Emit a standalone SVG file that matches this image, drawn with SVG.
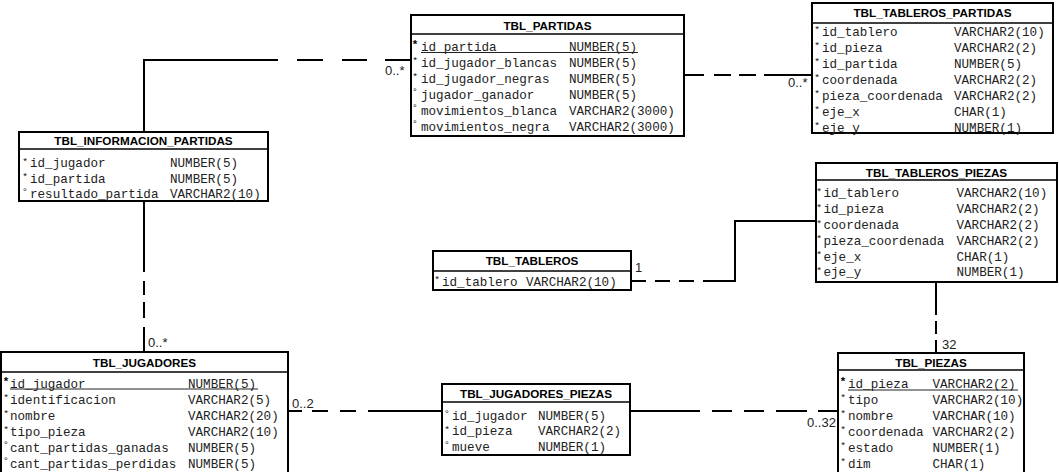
<svg xmlns="http://www.w3.org/2000/svg" width="1059" height="472" viewBox="0 0 1059 472">
<style>
.box{fill:#fff;stroke:#000;stroke-width:2}
.hl{stroke:#000;stroke-width:1.5}
.hdr{font-family:"Liberation Sans",Arial,sans-serif;font-weight:bold;font-size:11.7px;text-anchor:middle;fill:#000}
.f{font-family:"Liberation Mono","Courier New",monospace;font-size:12.6px;fill:#222}
.mk{font-family:"Liberation Sans",Arial,sans-serif;font-size:9.5px;text-anchor:middle;fill:#111}
.pk{font-family:"Liberation Sans",Arial,sans-serif;font-size:11.5px;font-weight:bold;text-anchor:middle;fill:#000}
.ul{stroke:#222;stroke-width:1}
.cn{fill:none;stroke:#000;stroke-width:2}
.lbl{font-family:"Liberation Sans",Arial,sans-serif;font-size:13px;fill:#222}
</style>
<rect width="1059" height="472" fill="#fff"/>

<g id="connectors">
  <path class="cn" d="M144,132 V60 H411" stroke-dasharray="206 19 26 19 25 18 40"/>
  <path class="cn" d="M144,201 V352" stroke-dasharray="71 9 14 7 16 9 40"/>
  <path class="cn" d="M684,75 H812" stroke-dasharray="20 10 17 8 17 8 60"/>
  <path class="cn" d="M631,281 H735 V221 H816" stroke-dasharray="15 9 15 9 15 9 200"/>
  <path class="cn" d="M936,282 V353" stroke-dasharray="33 6 13 6 30"/>
  <path class="cn" d="M288,411 H442" stroke-dasharray="14 10 16 12 16 12 100"/>
  <path class="cn" d="M630,411 H838" stroke-dasharray="70 12 20 12 20 12 31 11 30"/>
  <text class="lbl" x="385" y="75">0..*</text>
  <text class="lbl" x="788" y="87">0..*</text>
  <text class="lbl" x="148" y="347">0..*</text>
  <text class="lbl" x="292" y="408">0..2</text>
  <text class="lbl" x="807" y="427">0..32</text>
  <text class="lbl" x="942" y="349">32</text>
  <text class="lbl" x="635" y="272">1</text>
</g>

<g id="tbl_partidas">
  <rect class="box" x="411" y="15" width="273" height="121"/>
  <line class="hl" x1="411" y1="34" x2="684" y2="34"/>
  <text class="hdr" x="547.5" y="30">TBL_PARTIDAS</text>
  <text class="pk" x="415" y="48">*</text>
  <text class="mk" x="415" y="63">*</text>
  <text class="mk" x="415" y="79">*</text>
  <text class="mk" x="415" y="95">°</text>
  <text class="mk" x="415" y="111">°</text>
  <text class="mk" x="415" y="127">°</text>
  <text class="f" x="421" y="51">id_partida</text><text class="f" x="569" y="51">NUMBER(5)</text>
  <text class="f" x="421" y="67">id_jugador_blancas</text><text class="f" x="569" y="67">NUMBER(5)</text>
  <text class="f" x="421" y="83">id_jugador_negras</text><text class="f" x="569" y="83">NUMBER(5)</text>
  <text class="f" x="421" y="99">jugador_ganador</text><text class="f" x="569" y="99">NUMBER(5)</text>
  <text class="f" x="421" y="115">movimientos_blanca</text><text class="f" x="569" y="115">VARCHAR2(3000)</text>
  <text class="f" x="421" y="131">movimientos_negra</text><text class="f" x="569" y="131">VARCHAR2(3000)</text>
  <line class="ul" x1="421" y1="52.5" x2="638" y2="52.5"/>
</g>

<g id="tbl_tableros_partidas">
  <rect class="box" x="812" y="3" width="241" height="130"/>
  <line class="hl" x1="812" y1="23" x2="1053" y2="23"/>
  <text class="hdr" x="932.5" y="17">TBL_TABLEROS_PARTIDAS</text>
  <text class="mk" x="817" y="32">*</text>
  <text class="mk" x="817" y="48">*</text>
  <text class="mk" x="817" y="64">*</text>
  <text class="mk" x="817" y="80">*</text>
  <text class="mk" x="817" y="96">*</text>
  <text class="mk" x="817" y="112">*</text>
  <text class="mk" x="817" y="128">*</text>
  <text class="f" x="822" y="35.5">id_tablero</text><text class="f" x="954" y="35.5">VARCHAR2(10)</text>
  <text class="f" x="822" y="51.5">id_pieza</text><text class="f" x="954" y="51.5">VARCHAR2(2)</text>
  <text class="f" x="822" y="67.5">id_partida</text><text class="f" x="954" y="67.5">NUMBER(5)</text>
  <text class="f" x="822" y="83.5">coordenada</text><text class="f" x="954" y="83.5">VARCHAR2(2)</text>
  <text class="f" x="822" y="99.5">pieza_coordenada</text><text class="f" x="954" y="99.5">VARCHAR2(2)</text>
  <text class="f" x="822" y="115.5">eje_x</text><text class="f" x="954" y="115.5">CHAR(1)</text>
  <text class="f" x="822" y="131.5">eje_y</text><text class="f" x="954" y="131.5">NUMBER(1)</text>
</g>

<g id="tbl_informacion_partidas">
  <rect class="box" x="19" y="132" width="249" height="69"/>
  <line class="hl" x1="19" y1="149" x2="268" y2="149"/>
  <text class="hdr" x="143.5" y="145">TBL_INFORMACION_PARTIDAS</text>
  <text class="mk" x="25" y="164">*</text>
  <text class="mk" x="25" y="179">*</text>
  <text class="mk" x="25" y="195">°</text>
  <text class="f" x="30" y="167">id_jugador</text><text class="f" x="170" y="167">NUMBER(5)</text>
  <text class="f" x="30" y="182.5">id_partida</text><text class="f" x="170" y="182.5">NUMBER(5)</text>
  <text class="f" x="30" y="198">resultado_partida</text><text class="f" x="170" y="198">VARCHAR2(10)</text>
</g>

<g id="tbl_tableros_piezas">
  <rect class="box" x="816" y="163" width="241" height="119"/>
  <line class="hl" x1="816" y1="180" x2="1057" y2="180"/>
  <text class="hdr" x="936.5" y="177">TBL_TABLEROS_PIEZAS</text>
  <text class="mk" x="819" y="194">*</text>
  <text class="mk" x="819" y="210">*</text>
  <text class="mk" x="819" y="226">*</text>
  <text class="mk" x="819" y="241">*</text>
  <text class="mk" x="819" y="257">*</text>
  <text class="mk" x="819" y="273">*</text>
  <text class="f" x="823.5" y="197">id_tablero</text><text class="f" x="956.5" y="197">VARCHAR2(10)</text>
  <text class="f" x="823.5" y="213">id_pieza</text><text class="f" x="956.5" y="213">VARCHAR2(2)</text>
  <text class="f" x="823.5" y="229">coordenada</text><text class="f" x="956.5" y="229">VARCHAR2(2)</text>
  <text class="f" x="823.5" y="244.5">pieza_coordenada</text><text class="f" x="956.5" y="244.5">VARCHAR2(2)</text>
  <text class="f" x="823.5" y="260.5">eje_x</text><text class="f" x="956.5" y="260.5">CHAR(1)</text>
  <text class="f" x="823.5" y="276">eje_y</text><text class="f" x="956.5" y="276">NUMBER(1)</text>
</g>

<g id="tbl_tableros">
  <rect class="box" x="433" y="251" width="198" height="39"/>
  <line class="hl" x1="433" y1="271" x2="631" y2="271"/>
  <text class="hdr" x="532" y="265">TBL_TABLEROS</text>
  <text class="mk" x="437" y="282">*</text>
  <text class="f" x="442" y="285.5">id_tablero</text><text class="f" x="526" y="285.5">VARCHAR2(10)</text>
</g>

<g id="tbl_jugadores">
  <rect class="box" x="1" y="352" width="287" height="126"/>
  <line class="hl" x1="1" y1="372" x2="288" y2="372"/>
  <text class="hdr" x="144.5" y="367">TBL_JUGADORES</text>
  <text class="pk" x="6" y="385">*</text>
  <text class="mk" x="6" y="400">*</text>
  <text class="mk" x="6" y="416">*</text>
  <text class="mk" x="6" y="432">*</text>
  <text class="mk" x="6" y="448">°</text>
  <text class="mk" x="6" y="464">°</text>
  <text class="f" x="10" y="387.5">id_jugador</text><text class="f" x="188" y="387.5">NUMBER(5)</text>
  <text class="f" x="10" y="403.5">identificacion</text><text class="f" x="188" y="403.5">VARCHAR2(5)</text>
  <text class="f" x="10" y="419.5">nombre</text><text class="f" x="188" y="419.5">VARCHAR2(20)</text>
  <text class="f" x="10" y="435.5">tipo_pieza</text><text class="f" x="188" y="435.5">VARCHAR2(10)</text>
  <text class="f" x="10" y="451.5">cant_partidas_ganadas</text><text class="f" x="188" y="451.5">NUMBER(5)</text>
  <text class="f" x="10" y="467.5">cant_partidas_perdidas</text><text class="f" x="188" y="467.5">NUMBER(5)</text>
  <line class="ul" x1="10" y1="389" x2="258" y2="389"/>
</g>

<g id="tbl_jugadores_piezas">
  <rect class="box" x="442" y="384" width="188" height="71"/>
  <line class="hl" x1="442" y1="402" x2="630" y2="402"/>
  <text class="hdr" x="536" y="398">TBL_JUGADORES_PIEZAS</text>
  <text class="mk" x="447" y="417">°</text>
  <text class="mk" x="447" y="432">*</text>
  <text class="mk" x="447" y="448">°</text>
  <text class="f" x="452" y="419.5">id_jugador</text><text class="f" x="538" y="419.5">NUMBER(5)</text>
  <text class="f" x="452" y="435">id_pieza</text><text class="f" x="538" y="435">VARCHAR2(2)</text>
  <text class="f" x="452" y="450.5">mueve</text><text class="f" x="538" y="450.5">NUMBER(1)</text>
</g>

<g id="tbl_piezas">
  <rect class="box" x="838" y="353" width="186" height="125"/>
  <line class="hl" x1="838" y1="370" x2="1024" y2="370"/>
  <text class="hdr" x="931" y="367">TBL_PIEZAS</text>
  <text class="pk" x="843" y="385">*</text>
  <text class="mk" x="843" y="400">*</text>
  <text class="mk" x="843" y="416">*</text>
  <text class="mk" x="843" y="432">*</text>
  <text class="mk" x="843" y="448">*</text>
  <text class="mk" x="843" y="464">*</text>
  <text class="f" x="848" y="387.5">id_pieza</text><text class="f" x="932.5" y="387.5">VARCHAR2(2)</text>
  <text class="f" x="848" y="403.5">tipo</text><text class="f" x="932.5" y="403.5">VARCHAR2(10)</text>
  <text class="f" x="848" y="419.5">nombre</text><text class="f" x="932.5" y="419.5">VARCHAR(10)</text>
  <text class="f" x="848" y="435.5">coordenada</text><text class="f" x="932.5" y="435.5">VARCHAR2(2)</text>
  <text class="f" x="848" y="451.5">estado</text><text class="f" x="932.5" y="451.5">NUMBER(1)</text>
  <text class="f" x="848" y="467.5">dim</text><text class="f" x="932.5" y="467.5">CHAR(1)</text>
  <line class="ul" x1="848" y1="390" x2="1018" y2="390"/>
</g>
</svg>
